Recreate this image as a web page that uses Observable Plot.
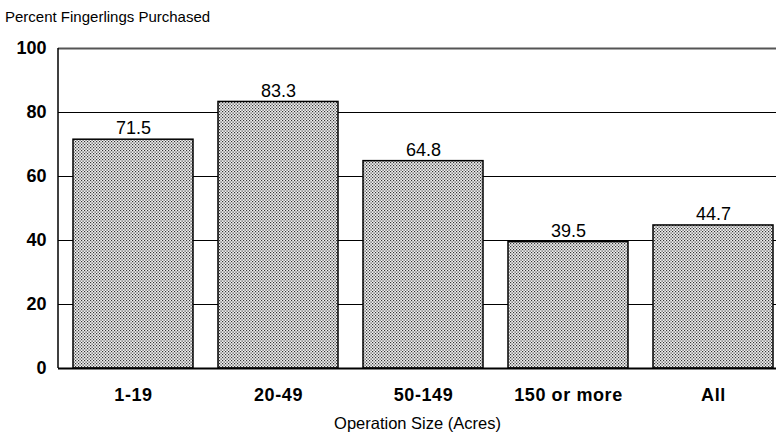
<!DOCTYPE html>
<html>
<head>
<meta charset="utf-8">
<script src="https://cdn.jsdelivr.net/npm/d3@7"></script>
<script src="https://cdn.jsdelivr.net/npm/@observablehq/plot@0.6"></script>
<style>
  html, body { margin: 0; padding: 0; background: #fff; }
  body { width: 776px; height: 440px; overflow: hidden; font-family: "Liberation Sans", Arial, sans-serif; }
  #title { position: absolute; left: 5px; top: 8px; font-size: 15px; color: #000; }
  #chart { position: absolute; left: 0; top: 30px; }
  svg text { fill: #000; }
  g[aria-label="x-axis tick label"] text { font-weight: bold; letter-spacing: 0.6px; }
  g[aria-label="y-axis tick label"] text { font-weight: bold; }
</style>
</head>
<body>
<div id="title">Percent Fingerlings Purchased</div>
<div id="chart"></div>
<script>
const categories = ["1-19", "20-49", "50-149", "150 or more", "All"];
const values = [71.5, 83.3, 64.8, 39.5, 44.7];
const yTicks = [0, 20, 40, 60, 80, 100];
const gridValues = [20, 40, 60, 80];
const xTitle = "Operation Size (Acres)";

const data = categories.map((c, i) => ({cat: c, val: values[i]}));

const chart = Plot.plot({
  width: 776,
  height: 410,
  marginTop: 18,
  marginBottom: 72,
  marginLeft: 58,
  marginRight: 0,
  style: {fontFamily: "'Liberation Sans', Arial, sans-serif", background: "#fff"},
  x: {domain: categories, range: [58.6, 787.3], paddingInner: 0.17, paddingOuter: 0.085, label: null},
  y: {domain: [0, 100], ticks: yTicks, label: null},
  marks: [
    Plot.ruleY(gridValues, {stroke: "#000", strokeWidth: 1}),
    Plot.ruleY([100], {stroke: "#555", strokeWidth: 2}),
    Plot.barY(data, {x: "cat", y: "val", fill: "url(#dots)", stroke: "#000", strokeWidth: 1.5}),
    Plot.ruleY([0], {stroke: "#000", strokeWidth: 2}),
    Plot.text(data, {x: "cat", y: "val", text: d => d.val.toFixed(1), dy: -11, fontSize: 18}),
    Plot.axisY({ticks: yTicks, tickSize: 0, tickPadding: 12, fontSize: 18, label: null}),
    Plot.axisX({tickSize: 0, tickPadding: 20, fontSize: 18, label: null}),
    Plot.text([xTitle], {frameAnchor: "bottom", dy: 60, fontSize: 16.5})
  ]
});

// pattern + left axis line
const svg = d3.select(chart);
const defs = svg.insert("defs", ":first-child");
const pat = defs.append("pattern").attr("id", "dots").attr("width", 3).attr("height", 3).attr("patternUnits", "userSpaceOnUse");
pat.append("rect").attr("width", 3).attr("height", 3).attr("fill", "#f2f2f2");
pat.append("rect").attr("x", 0).attr("y", 0).attr("width", 1.2).attr("height", 1.2).attr("fill", "#333");
pat.append("rect").attr("x", 1.5).attr("y", 1.5).attr("width", 1.2).attr("height", 1.2).attr("fill", "#333");

const ys = chart.scale("y");
svg.append("line")
  .attr("x1", 58).attr("x2", 58)
  .attr("y1", ys.apply(100)).attr("y2", ys.apply(0))
  .attr("stroke", "#000").attr("stroke-width", 1.5);

document.getElementById("chart").appendChild(chart);
</script>
</body>
</html>
